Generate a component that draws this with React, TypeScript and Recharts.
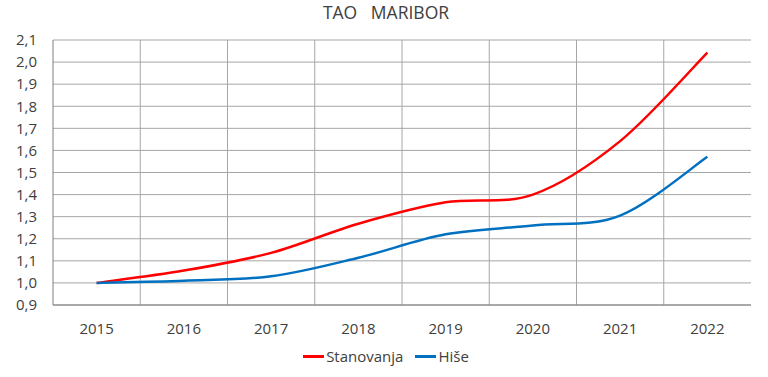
import React from "react";
import { LineChart, Line, XAxis, YAxis, CartesianGrid } from "recharts";

const years = ["2015", "2016", "2017", "2018", "2019", "2020", "2021", "2022"];
const stanovanja = [1.0, 1.056, 1.136, 1.268, 1.365, 1.4, 1.642, 2.043];
const hise = [1.0, 1.01, 1.03, 1.114, 1.22, 1.26, 1.305, 1.571];
const yTicks = [0.9, 1.0, 1.1, 1.2, 1.3, 1.4, 1.5, 1.6, 1.7, 1.8, 1.9, 2.0, 2.1];
const seriesNames = ["Stanovanja", "Hiše"];
const seriesColors = ["#ff0000", "#0070c0"];
const title = "TAO   MARIBOR";

const data = years.map((y, i) => ({ year: y, s: stanovanja[i], h: hise[i] }));

// Excel-like smoothing (Catmull-Rom via cubic Bezier)
const excelSmooth = (context: any) => {
  let pts: [number, number][] = [];
  return {
    areaStart() {},
    areaEnd() {},
    lineStart() {
      pts = [];
    },
    lineEnd() {
      const n = pts.length;
      if (!n) return;
      context.moveTo(pts[0][0], pts[0][1]);
      for (let i = 0; i < n - 1; i++) {
        const p0 = pts[Math.max(0, i - 1)];
        const p1 = pts[i];
        const p2 = pts[i + 1];
        const p3 = pts[Math.min(n - 1, i + 2)];
        const c1x = p1[0] + (p2[0] - p0[0]) / 6;
        const c1y = p1[1] + (p2[1] - p0[1]) / 6;
        const c2x = p2[0] - (p3[0] - p1[0]) / 6;
        const c2y = p2[1] - (p3[1] - p1[1]) / 6;
        context.bezierCurveTo(c1x, c1y, c2x, c2y, p2[0], p2[1]);
      }
    },
    point(x: number, y: number) {
      pts.push([+x, +y]);
    },
  };
};

const FONT = "'Open Sans', sans-serif";
const TEXT = "#404040";
const BORDER = "#7f7f7f";
const GRID = "#a6a6a6";
const PLOT_W = 698;
const HALF_BAND = PLOT_W / years.length / 2;

export default function App() {
  return (
    <div style={{ position: "absolute", left: 0, top: 0, width: 768, height: 377, background: "#fff", fontFamily: FONT }}>
      <div
        style={{
          position: "absolute",
          left: 0,
          width: 772,
          top: 0,
          textAlign: "center",
          fontSize: 17.5,
          color: TEXT,
          whiteSpace: "pre",
          lineHeight: "24px",
        }}
      >
        {title}
      </div>
      <LineChart width={768} height={377} data={data} margin={{ top: 40, right: 17, bottom: 0, left: 0 }}>
        <CartesianGrid
          xAxisId="x"
          yAxisId="y"
          stroke={GRID}
          strokeWidth={1}
          verticalCoordinatesGenerator={({ offset }: any) =>
            years.slice(1).map((_, i) => offset.left + ((i + 1) * offset.width) / years.length)
          }
        />
        <XAxis
          xAxisId="x"
          dataKey="year"
          height={72}
          padding={{ left: HALF_BAND, right: HALF_BAND }}
          tickLine={false}
          tickSize={0}
          tickMargin={18}
          interval={0}
          axisLine={{ stroke: BORDER }}
          tick={{ fontSize: 15, fill: TEXT, fontFamily: FONT }}
        />
        <XAxis xAxisId="top" dataKey="year" orientation="top" height={0} tick={false} tickLine={false} axisLine={{ stroke: BORDER }} />
        <YAxis
          yAxisId="y"
          type="number"
          domain={[0.9, 2.1]}
          ticks={yTicks}
          interval={0}
          width={53}
          tickLine={false}
          tickSize={0}
          tickMargin={16}
          axisLine={{ stroke: BORDER }}
          tickFormatter={(v: number) => v.toFixed(1).replace(".", ",")}
          tick={{ fontSize: 15, fill: TEXT, fontFamily: FONT }}
        />
        <YAxis
          yAxisId="right"
          orientation="right"
          type="number"
          domain={[0.9, 2.1]}
          width={0}
          tick={false}
          tickLine={false}
          axisLine={{ stroke: BORDER }}
        />
        <Line
          xAxisId="x"
          yAxisId="y"
          dataKey="s"
          name={seriesNames[0]}
          type={excelSmooth as any}
          stroke={seriesColors[0]}
          strokeWidth={2.5}
          dot={false}
          isAnimationActive={false}
        />
        <Line
          xAxisId="x"
          yAxisId="y"
          dataKey="h"
          name={seriesNames[1]}
          type={excelSmooth as any}
          stroke={seriesColors[1]}
          strokeWidth={2.5}
          dot={false}
          isAnimationActive={false}
        />
      </LineChart>
      <div
        style={{
          position: "absolute",
          left: 0,
          width: 772,
          top: 346,
          display: "flex",
          justifyContent: "center",
          alignItems: "center",
          fontSize: 15,
          color: TEXT,
          lineHeight: "20px",
        }}
      >
        {seriesNames.map((n, i) => (
          <div key={n} style={{ display: "flex", alignItems: "center", marginRight: i === 0 ? 12 : 0 }}>
            <div style={{ width: 21, height: 3, background: seriesColors[i], marginRight: 2 }} />
            <span>{n}</span>
          </div>
        ))}
      </div>
    </div>
  );
}
